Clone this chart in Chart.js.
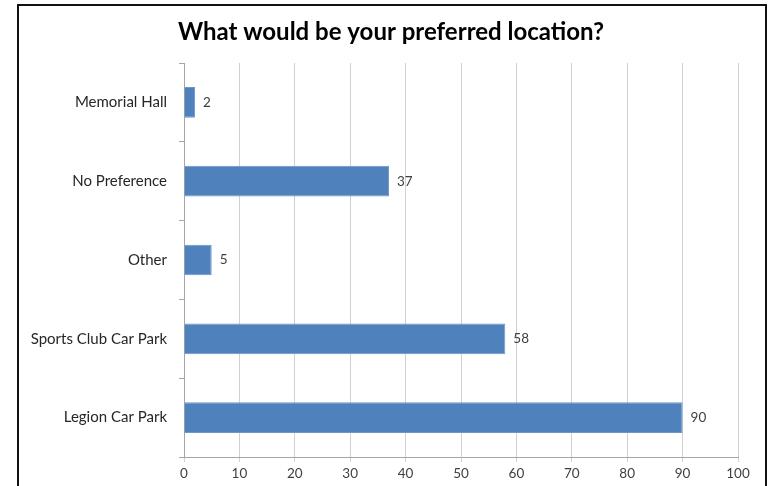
<!DOCTYPE html>
<html>
<head>
<meta charset="utf-8">
<script src="https://cdn.jsdelivr.net/npm/chart.js@4"></script>
<style>
  html, body { margin: 0; padding: 0; background: #fff; overflow: hidden; }
  #frame {
    position: absolute; left: 17px; top: 4px; width: 746px; height: 520px;
    border: 2px solid #111;
  }
  #wrap { position: absolute; left: 0; top: 0; width: 769px; height: 486px; }
</style>
</head>
<body>
<div id="frame"></div>
<div id="wrap"><canvas id="location-canvas"></canvas></div>
<script>
var chartTitle = 'What would be your preferred location?';
var categories = ['Memorial Hall', 'No Preference', 'Other', 'Sports Club Car Park', 'Legion Car Park'];
var responses = [2, 37, 5, 58, 90];
var xTicks = [0, 10, 20, 30, 40, 50, 60, 70, 80, 90, 100];

var FONT = 'Lato, "Open Sans", sans-serif';

// values drawn just right of each bar end
var barLabels = {
    id: 'barLabels',
    afterDatasetsDraw: function(chart) {
        var ctx = chart.ctx;
        var meta = chart.getDatasetMeta(0);
        ctx.save();
        ctx.font = '13.5px ' + FONT;
        ctx.fillStyle = '#404040';
        ctx.textAlign = 'left';
        ctx.textBaseline = 'middle';
        meta.data.forEach(function(bar, i) {
            ctx.fillText(String(chart.data.datasets[0].data[i]), bar.x + 8, bar.y);
        });
        ctx.restore();
    }
};

// title sits a bit right of the canvas centre, like the excel original
var titleText = {
    id: 'titleText',
    afterDraw: function(chart) {
        var ctx = chart.ctx;
        ctx.save();
        ctx.font = 'bold 24px ' + FONT;
        ctx.fillStyle = '#000';
        ctx.textAlign = 'center';
        ctx.textBaseline = 'middle';
        ctx.fillText(chartTitle, 391, 32);
        ctx.restore();
    }
};

window.onload = function() {
    var ctx = document.getElementById('location-canvas').getContext('2d');
    window.locChart = new Chart(ctx, {
        type: 'bar',
        data: {
            labels: categories,
            datasets: [{
                data: responses,
                backgroundColor: '#4F81BD',
                borderColor: '#6E97C8',
                borderWidth: 1,
                categoryPercentage: 1,
                barPercentage: 0.39
            }]
        },
        plugins: [barLabels, titleText],
        options: {
            indexAxis: 'y',
            responsive: true,
            maintainAspectRatio: false,
            animation: false,
            layout: { padding: { left: 0, right: 31, top: 63, bottom: 0 } },
            plugins: {
                legend: { display: false },
                tooltip: { enabled: false },
                title: { display: false }
            },
            scales: {
                x: {
                    min: 0,
                    max: 100,
                    afterBuildTicks: function(scale) {
                        scale.ticks = xTicks.map(function(v) { return { value: v }; });
                    },
                    afterFit: function(scale) { scale.height = 29; },
                    grid: { color: '#d0d0d0', tickLength: 5, lineWidth: 1 },
                    border: { color: '#a6a6a6' },
                    ticks: {
                        color: '#404040',
                        padding: 4,
                        maxRotation: 0,
                        font: { family: FONT, size: 13.5 }
                    }
                },
                y: {
                    afterFit: function(scale) { scale.width = 184; },
                    grid: { drawOnChartArea: false, tickLength: 5, color: '#a6a6a6', offset: true },
                    border: { color: '#a6a6a6' },
                    ticks: {
                        color: '#262626',
                        padding: 12,
                        font: { family: FONT, size: 15 }
                    }
                }
            }
        }
    });
};
</script>
</body>
</html>
